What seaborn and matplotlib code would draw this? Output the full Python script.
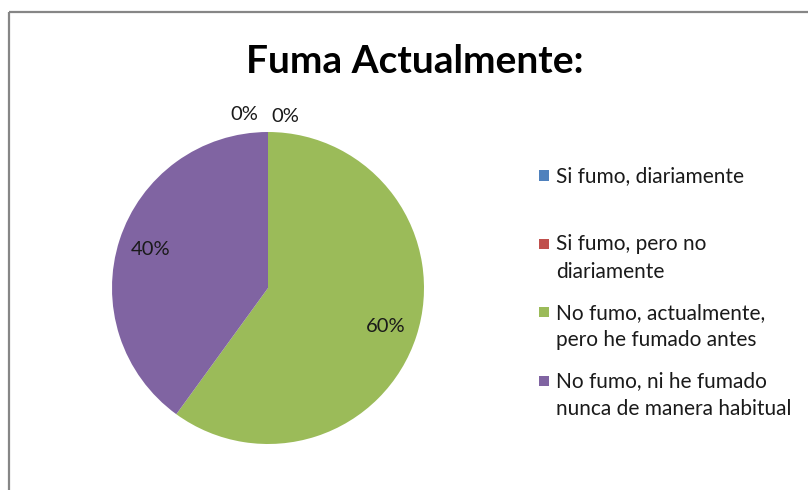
import matplotlib
matplotlib.use("Agg")
import matplotlib.pyplot as plt
from matplotlib.lines import Line2D
from matplotlib.patches import Rectangle
from matplotlib.legend_handler import HandlerPatch
import seaborn as sns

categories = [
    "Si fumo, diariamente",
    "Si fumo, pero no\ndiariamente",
    "No fumo, actualmente,\npero he fumado antes",
    "No fumo, ni he fumado\nnunca de manera habitual",
]
values = [0, 0, 60, 40]
colors = ["#4F81BD", "#C0504D", "#9BBB59", "#8064A2"]

sns.set_theme(style="white")
plt.rcParams["font.family"] = ["Lato", "DejaVu Sans"]

fig = plt.figure(figsize=(8.08, 4.9), dpi=100)
fig.patch.set_facecolor("white")
fig.patch.set_edgecolor("white")
fig.patch.set_linewidth(0)

# outer chart border (Excel style): only top and left edges are visible
bx, by = 9 / 808, 1 - 12 / 490
fig.add_artist(Line2D([bx, 1.0], [by, by], transform=fig.transFigure,
                      color="#868686", linewidth=1.6, solid_capstyle="butt"))
fig.add_artist(Line2D([bx, bx], [0.0, by], transform=fig.transFigure,
                      color="#868686", linewidth=1.6, solid_capstyle="butt"))

ax = fig.add_axes([112 / 808, 46 / 490, 312 / 808, 312 / 490])
wedges, texts, autotexts = ax.pie(
    values, colors=colors, startangle=90, counterclock=False,
    autopct="%1.0f%%", pctdistance=0.79,
    wedgeprops=dict(linewidth=0),
    textprops=dict(fontsize=14.5, color="#1a1a1a"),
)
ax.set_xlim(-1, 1)
ax.set_ylim(-1, 1)

# zero-size slices get their labels pushed just outside the top of the pie
zero_pos = [(-0.15, 1.11), (0.11, 1.10)]
k = 0
for v, t in zip(values, autotexts):
    if v == 0:
        t.set_position(zero_pos[k])
        k += 1

fig.text(0.513, 0.875, "Fuma Actualmente:", ha="center", va="center",
         fontsize=28, fontweight="bold", color="black")


def square(legend, orig_handle, xdescent, ydescent, width, height, fontsize):
    s = 0.5 * fontsize
    return Rectangle((-xdescent, -ydescent + height - s - 0.2 * fontsize), s, s)


labels = [categories[0] + "\n "] + categories[1:]
leg = ax.legend(wedges, labels, loc="upper left",
                bbox_to_anchor=(539 / 808, 1 - 166 / 490),
                bbox_transform=fig.transFigure, frameon=False,
                fontsize=15, handlelength=0.5, handleheight=0.8,
                handletextpad=0.3, labelspacing=1.02, borderpad=0,
                borderaxespad=0,
                handler_map={w: HandlerPatch(patch_func=square) for w in wedges})
for t in leg.get_texts():
    t.set_color("#1a1a1a")
    t.set_linespacing(1.45)
# put each marker next to the first line of its label, as Excel does
for col in leg._legend_handle_box.get_children():
    for row in col.get_children():
        row.align = "top"

plt.savefig("out.png", dpi=100, facecolor="white", edgecolor="white")
